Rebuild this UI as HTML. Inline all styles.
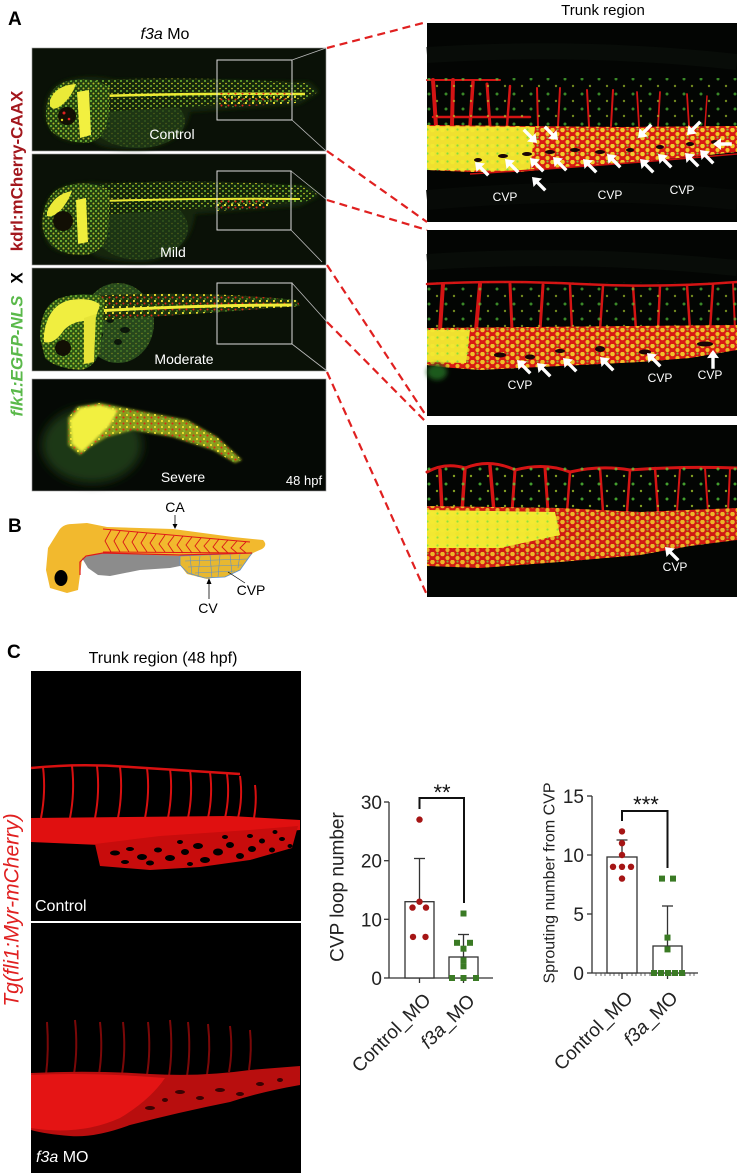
<!DOCTYPE html>
<html><head><meta charset="utf-8"><style>
html,body{margin:0;padding:0;background:#fff;}
svg{display:block;font-family:"Liberation Sans",Arial,sans-serif;}
</style></head><body>
<svg width="737" height="1173" viewBox="0 0 737 1173" xmlns="http://www.w3.org/2000/svg">
<defs>
 <filter id="b1" x="-20%" y="-20%" width="140%" height="140%"><feGaussianBlur stdDeviation="1.2"/></filter>
 <filter id="b2" x="-30%" y="-30%" width="160%" height="160%"><feGaussianBlur stdDeviation="2.5"/></filter>
 <filter id="b4" x="-50%" y="-50%" width="200%" height="200%"><feGaussianBlur stdDeviation="5"/></filter>
 <pattern id="spk" width="6" height="5" patternUnits="userSpaceOnUse">
   <circle cx="1" cy="1" r="0.9" fill="#8ae03c"/>
   <circle cx="4" cy="3.5" r="0.8" fill="#e4d828"/>
 </pattern>
 <pattern id="spkh" width="5" height="5" patternUnits="userSpaceOnUse">
   <circle cx="1" cy="1" r="1.1" fill="#7cc83a"/>
   <circle cx="3.5" cy="3.5" r="1" fill="#d8d830"/>
 </pattern>
 <pattern id="spkr" width="7" height="6" patternUnits="userSpaceOnUse">
   <circle cx="1" cy="1" r="1.1" fill="#f0e030"/>
   <circle cx="4.5" cy="3.5" r="1" fill="#e02818"/>
   <circle cx="2" cy="5" r="0.7" fill="#7ad03a"/>
 </pattern>
 <pattern id="yd" width="10" height="8" patternUnits="userSpaceOnUse">
   <circle cx="2.5" cy="2" r="2.3" fill="#f4ea30"/>
   <circle cx="7.5" cy="6" r="2.1" fill="#f0e428"/>
   <circle cx="7.5" cy="1.5" r="1.1" fill="#6de040"/>
 </pattern>
 <pattern id="gd" width="17" height="15" patternUnits="userSpaceOnUse">
   <circle cx="4" cy="4" r="1.5" fill="#5fe040"/>
   <circle cx="12" cy="11" r="1.2" fill="#b8e030"/>
 </pattern>
 <path id="arr" d="M0,0 L10,1.5 L6.8,4.4 L14.5,12.1 L12.1,14.5 L4.4,6.8 L1.5,10 Z" fill="#fff"/>
</defs>

<rect width="737" height="1173" fill="#fff"/>

<!-- ============ A labels ============ -->
<text x="8" y="25" font-size="19" font-weight="bold" fill="#000">A</text>
<text x="165" y="39" font-size="16" text-anchor="middle" fill="#000"><tspan font-style="italic">f3a</tspan> Mo</text>
<text x="603" y="15" font-size="15" text-anchor="middle" fill="#000">Trunk region</text>
<text transform="translate(17,171) rotate(-90)" text-anchor="middle" dominant-baseline="central" font-size="17" font-weight="bold" fill="#a3171d">kdrl:mCherry-CAAX</text>
<text transform="translate(17,278) rotate(-90)" text-anchor="middle" dominant-baseline="central" font-size="17" font-weight="bold" fill="#000">X</text>
<text transform="translate(17,356) rotate(-90)" text-anchor="middle" dominant-baseline="central" font-size="17" font-weight="bold" font-style="italic" fill="#5ab94a">flk1:EGFP-NLS</text>

<!-- ============ Left panel 1 Control ============ -->
<g>
<rect x="32" y="48" width="294" height="103" fill="#0a1107" stroke="#999" stroke-width="0.6"/>
<path d="M45,110 Q46,86 68,80 Q90,74 115,80 L310,82 L320,92 L300,104 L190,112 Q185,146 140,149 Q100,150 92,140 Q70,146 55,135 Q45,125 45,110Z" fill="#16280d" filter="url(#b2)"/>
<ellipse cx="138" cy="121" rx="47" ry="27" fill="#1e3614"/>
<ellipse cx="138" cy="121" rx="47" ry="27" fill="url(#spk)" opacity="0.25"/>
<path d="M95,80 Q200,76 305,83 L318,92 L305,100 Q200,106 100,112 Z" fill="#15270b"/>
<path d="M95,80 Q200,76 305,83 L318,92 L305,100 Q200,106 100,112 Z" fill="url(#spk)"/>
<path d="M98,96 Q200,93 305,94" stroke="#ecea34" stroke-width="2.5" fill="none"/>
<path d="M220,93 L296,93 L296,103 L220,108Z" fill="url(#spkr)"/>
<path d="M46,112 Q47,90 62,83 Q80,76 100,82 L110,88 L108,120 Q104,140 88,143 Q65,143 52,132 Q45,124 46,112Z" fill="#223f10"/>
<path d="M46,112 Q47,90 62,83 Q80,76 100,82 L110,88 L108,120 Q104,140 88,143 Q65,143 52,132 Q45,124 46,112Z" fill="url(#spkh)" opacity="0.8"/>
<path d="M50,100 Q56,85 76,84 Q72,96 63,104 Q54,112 50,106Z" fill="#eaea38"/>
<path d="M77,92 L89,90 L91,135 L80,138 Z" fill="#f2f040"/>
<circle cx="67" cy="116" r="9" fill="#120f04"/>
<circle cx="64" cy="113" r="1.5" fill="#e02020"/><circle cx="69" cy="119" r="1.3" fill="#e02020"/><circle cx="62" cy="120" r="1.2" fill="#e0d020"/>
<rect x="217" y="60" width="75" height="60" fill="none" stroke="#ddd" stroke-width="1"/>
<line x1="292" y1="60" x2="326" y2="48" stroke="#bbb" stroke-width="0.8"/>
<line x1="292" y1="120" x2="326" y2="151" stroke="#bbb" stroke-width="0.8"/>
<text x="172" y="139" font-size="14" text-anchor="middle" fill="#fff">Control</text>
</g>

<!-- ============ Left panel 2 Mild ============ -->
<g>
<rect x="32" y="154" width="294" height="111" fill="#0a1107" stroke="#999" stroke-width="0.6"/>
<path d="M42,222 Q44,196 60,188 Q80,180 110,184 L310,186 L320,196 L300,206 L195,214 Q190,256 145,262 Q100,262 90,252 Q60,258 48,244 Q42,234 42,222Z" fill="#15270c" filter="url(#b2)"/>
<ellipse cx="140" cy="228" rx="48" ry="32" fill="#1c3414"/>
<ellipse cx="140" cy="228" rx="48" ry="32" fill="url(#spk)" opacity="0.25"/>
<path d="M100,184 Q200,178 305,186 L318,195 L305,202 Q200,208 100,215 Z" fill="#14260b"/>
<path d="M100,184 Q200,178 305,186 L318,195 L305,202 Q200,208 100,215 Z" fill="url(#spk)"/>
<path d="M100,201 Q200,198 300,199" stroke="#e8e632" stroke-width="2" fill="none"/>
<path d="M215,198 L270,197 L268,208 L215,211Z" fill="url(#spkr)"/>
<path d="M42,222 Q44,196 60,188 Q80,180 100,186 L110,192 L108,232 Q104,252 86,255 Q62,256 50,244 Q42,234 42,222Z" fill="#213d10"/>
<path d="M42,222 Q44,196 60,188 Q80,180 100,186 L110,192 L108,232 Q104,252 86,255 Q62,256 50,244 Q42,234 42,222Z" fill="url(#spkh)" opacity="0.8"/>
<path d="M47,212 Q54,194 72,191 Q68,202 60,211 Q52,218 47,216Z" fill="#ecea38"/>
<path d="M76,200 L86,198 L88,242 L78,244Z" fill="#f0ee3c"/>
<circle cx="63" cy="221" r="10" fill="#120f04"/>
<rect x="217" y="171" width="74" height="59" fill="none" stroke="#ddd" stroke-width="1"/>
<line x1="291" y1="171" x2="327" y2="200" stroke="#bbb" stroke-width="0.8"/>
<line x1="291" y1="230" x2="322" y2="262" stroke="#bbb" stroke-width="0.8"/>
<text x="173" y="257" font-size="14" text-anchor="middle" fill="#fff">Mild</text>
</g>

<!-- ============ Left panel 3 Moderate ============ -->
<g>
<rect x="32" y="268" width="294" height="103" fill="#0a1107" stroke="#999" stroke-width="0.6"/>
<ellipse cx="118" cy="323" rx="36" ry="40" fill="#27481c"/>
<ellipse cx="118" cy="323" rx="36" ry="40" fill="url(#spk)" opacity="0.4"/>
<ellipse cx="110" cy="320" rx="4" ry="3" fill="#0c160a"/><ellipse cx="125" cy="330" rx="5" ry="3" fill="#0c160a"/><ellipse cx="132" cy="312" rx="3" ry="3" fill="#0c160a"/><ellipse cx="118" cy="342" rx="4" ry="3" fill="#0c160a"/><ellipse cx="100" cy="335" rx="3" ry="3" fill="#0c160a"/>
<path d="M92,296 Q200,290 297,300 L300,306 Q200,314 100,320Z" fill="#1e330d"/>
<path d="M92,296 Q200,290 297,300 L300,306 Q200,314 100,320Z" fill="url(#spkr)"/>
<path d="M95,311 Q200,305 292,305" stroke="#f0ec38" stroke-width="3" fill="none"/>
<path d="M40,338 Q40,305 60,298 Q80,292 100,296 L105,300 L100,350 Q95,368 80,370 Q55,368 45,358 Z" fill="#2c5414"/>
<path d="M40,338 Q40,305 60,298 Q80,292 100,296 L105,300 L100,350 Q95,368 80,370 Q55,368 45,358 Z" fill="url(#spkh)" opacity="0.8"/>
<path d="M44,334 Q48,305 70,300 Q92,297 100,305 L94,322 Q76,318 64,330 Q54,345 44,342Z" fill="#f0ee40"/>
<path d="M84,318 L96,314 L94,362 L84,364Z" fill="#e6e438"/>
<circle cx="63" cy="348" r="8" fill="#120f04"/>
<rect x="217" y="283" width="75" height="61" fill="none" stroke="#ddd" stroke-width="1"/>
<line x1="292" y1="283" x2="327" y2="322" stroke="#bbb" stroke-width="0.8"/>
<line x1="292" y1="344" x2="327" y2="371" stroke="#bbb" stroke-width="0.8"/>
<text x="184" y="364" font-size="14" text-anchor="middle" fill="#fff">Moderate</text>
</g>

<!-- ============ Left panel 4 Severe ============ -->
<g>
<rect x="32" y="379" width="294" height="112" fill="#050905" stroke="#999" stroke-width="0.6"/>
<ellipse cx="92" cy="445" rx="50" ry="38" fill="#1e3812" filter="url(#b4)"/>
<path d="M68,418 L77,407 L100,403 L150,413 L187,420 L217,437 L242,460 L235,463 L213,450 L173,437 L133,430 L107,437 L90,447 L80,455 L68,445Z" fill="#8a9a1c" filter="url(#b1)"/>
<path d="M68,418 L77,407 L100,403 L150,413 L187,420 L217,437 L242,460 L235,463 L213,450 L173,437 L133,430 L107,437 L90,447 L80,455 L68,445Z" fill="url(#spkr)"/>
<path d="M70,420 L80,408 L100,405 L118,410 L110,425 L95,440 L82,452 L72,444Z" fill="#f2f040" filter="url(#b1)"/>
<text x="183" y="482" font-size="14" text-anchor="middle" fill="#fff">Severe</text>
<text x="304" y="485" font-size="13" text-anchor="middle" fill="#fff">48 hpf</text>
</g>

<!-- ============ Right panel 1 ============ -->
<g>
<rect x="427" y="23" width="310" height="199" fill="#030503"/>
<path d="M427,55 Q580,45 737,62" stroke="#080c08" stroke-width="16" fill="none"/>
<path d="M427,200 Q600,185 737,200" stroke="#070a07" stroke-width="20" fill="none"/>
<g stroke="#d41414" fill="none" stroke-linecap="round">
 <path d="M427,80 L500,80" stroke-width="2"/>
 <path d="M433,117 L530,117" stroke-width="2.5"/>
 <path d="M433,80 L436,126" stroke-width="4"/>
 <path d="M453,80 L452,126" stroke-width="4"/>
 <path d="M473,82 L470,126" stroke-width="3.5"/>
 <path d="M487,84 L490,126" stroke-width="3"/>
 <path d="M510,86 L507,126" stroke-width="2.5"/>
 <path d="M537,88 L538,126" stroke-width="2"/>
 <path d="M560,88 L558,126" stroke-width="2"/>
 <path d="M587,90 L589,126" stroke-width="2"/>
 <path d="M613,90 L611,126" stroke-width="2"/>
 <path d="M637,92 L639,126" stroke-width="1.8"/>
 <path d="M660,92 L658,126" stroke-width="1.8"/>
 <path d="M687,94 L689,126" stroke-width="1.8"/>
 <path d="M707,96 L705,126" stroke-width="1.5"/>
</g>
<rect x="427" y="78" width="310" height="48" fill="url(#gd)" opacity="0.6"/>
<path d="M427,125 L520,126 L620,127 L737,126 L737,152 L690,157 L620,163 L560,168 L520,172 L470,172 L427,170Z" fill="#d81a14"/>
<path d="M427,126 L535,127 L530,171 L427,170Z" fill="#f0e030"/>
<path d="M427,125 L520,126 L620,127 L737,126 L737,152 L690,157 L620,163 L560,168 L520,172 L470,172 L427,170Z" fill="url(#yd)" opacity="0.85"/>
<g fill="#1a0505">
 <ellipse cx="478" cy="160" rx="4" ry="2"/><ellipse cx="503" cy="156" rx="5" ry="2"/><ellipse cx="527" cy="154" rx="5" ry="2"/>
 <ellipse cx="550" cy="152" rx="5" ry="2"/><ellipse cx="575" cy="150" rx="5" ry="2"/><ellipse cx="600" cy="152" rx="5" ry="2"/>
 <ellipse cx="630" cy="150" rx="4" ry="2"/><ellipse cx="660" cy="147" rx="4" ry="2"/><ellipse cx="690" cy="144" rx="4" ry="2"/><ellipse cx="715" cy="142" rx="4" ry="2"/>
</g>
<path d="M470,174 Q600,166 737,154" stroke="#c81010" stroke-width="1.5" fill="none"/>
<use href="#arr" transform="translate(475,162)"/>
<use href="#arr" transform="translate(505,159)"/>
<use href="#arr" transform="translate(530,158)"/>
<use href="#arr" transform="translate(553,157)"/>
<use href="#arr" transform="translate(583,159)"/>
<use href="#arr" transform="translate(607,154)"/>
<use href="#arr" transform="translate(640,159)"/>
<use href="#arr" transform="translate(658,154)"/>
<use href="#arr" transform="translate(685,153)"/>
<use href="#arr" transform="translate(700,150)"/>
<use href="#arr" transform="translate(532,177)"/>
<use href="#arr" transform="translate(537,143) rotate(180)"/>
<use href="#arr" transform="translate(558,140) rotate(180)"/>
<use href="#arr" transform="translate(638,138) rotate(-90)"/>
<use href="#arr" transform="translate(687,135) rotate(-90)"/>
<use href="#arr" transform="translate(713,144) rotate(-45)"/>
<g font-size="12" fill="#fff" text-anchor="middle">
 <text x="505" y="201">CVP</text><text x="610" y="199">CVP</text><text x="682" y="194">CVP</text>
</g>
</g>

<!-- ============ Right panel 2 ============ -->
<g>
<rect x="427" y="230" width="310" height="186" fill="#030503"/>
<path d="M427,262 Q580,252 737,268" stroke="#080c08" stroke-width="16" fill="none"/>
<g stroke="#d41414" fill="none" stroke-linecap="round">
 <path d="M427,284 Q500,280 580,284 Q660,288 737,282" stroke-width="2.5"/>
 <path d="M443,284 L440,330" stroke-width="4"/>
 <path d="M480,284 L476,330" stroke-width="4"/>
 <path d="M510,284 L512,330" stroke-width="3"/>
 <path d="M543,285 L540,330" stroke-width="3"/>
 <path d="M570,285 L572,330" stroke-width="2.5"/>
 <path d="M603,286 L600,330" stroke-width="2.5"/>
 <path d="M633,286 L636,330" stroke-width="2.5"/>
 <path d="M660,286 L658,330" stroke-width="2.5"/>
 <path d="M687,285 L690,330" stroke-width="2.5"/>
 <path d="M713,284 L710,330" stroke-width="2.5"/>
 <path d="M733,283 L735,330" stroke-width="2"/>
</g>
<rect x="427" y="282" width="310" height="48" fill="url(#gd)" opacity="0.6"/>
<path d="M427,328 L737,325 L737,350 L690,358 L640,362 L560,366 L480,370 L440,367 L427,365Z" fill="#d81a14"/>
<path d="M427,330 L470,330 L466,363 L427,362Z" fill="#f0e030"/>
<path d="M427,328 L737,325 L737,350 L690,358 L640,362 L560,366 L480,370 L440,367 L427,365Z" fill="url(#yd)" opacity="0.8"/>
<g fill="#1a0505">
 <ellipse cx="500" cy="355" rx="6" ry="2.5"/><ellipse cx="530" cy="357" rx="5" ry="2.5"/><ellipse cx="560" cy="351" rx="5" ry="2"/>
 <ellipse cx="600" cy="349" rx="5" ry="3"/><ellipse cx="645" cy="352" rx="6" ry="2.5"/><ellipse cx="705" cy="344" rx="8" ry="2.5"/>
</g>
<ellipse cx="437" cy="372" rx="10" ry="8" fill="#1f5a1a" filter="url(#b2)"/>
<use href="#arr" transform="translate(517,360)"/>
<use href="#arr" transform="translate(537,363)"/>
<use href="#arr" transform="translate(563,358)"/>
<use href="#arr" transform="translate(600,357)"/>
<use href="#arr" transform="translate(647,353)"/>
<use href="#arr" transform="translate(713,350) rotate(45)"/>
<g font-size="12" fill="#fff" text-anchor="middle">
 <text x="520" y="389">CVP</text><text x="660" y="382">CVP</text><text x="710" y="379">CVP</text>
</g>
</g>

<!-- ============ Right panel 3 ============ -->
<g>
<rect x="427" y="425" width="310" height="172" fill="#030503"/>
<g stroke="#d41414" fill="none" stroke-linecap="round">
 <path d="M427,472 Q445,462 465,468 Q490,458 515,470 Q545,462 570,472 Q600,465 630,470 Q680,466 737,468" stroke-width="3"/>
 <path d="M440,470 L442,512" stroke-width="3.5"/>
 <path d="M465,468 L462,512" stroke-width="3.5"/>
 <path d="M490,466 L494,512" stroke-width="3.5"/>
 <path d="M515,470 L512,512" stroke-width="3"/>
 <path d="M545,468 L548,512" stroke-width="3"/>
 <path d="M570,472 L567,512" stroke-width="2.5"/>
 <path d="M600,468 L603,512" stroke-width="2.5"/>
 <path d="M630,470 L627,512" stroke-width="2.5"/>
 <path d="M655,468 L658,512" stroke-width="2.5"/>
 <path d="M680,468 L677,512" stroke-width="2"/>
 <path d="M705,468 L708,512" stroke-width="2"/>
 <path d="M730,468 L728,512" stroke-width="2"/>
</g>
<rect x="427" y="466" width="310" height="46" fill="url(#gd)" opacity="0.7"/>
<path d="M427,506 L560,508 L640,512 L737,508 L737,540 L690,546 L640,555 L560,562 L480,568 L427,566Z" fill="#d01a14"/>
<path d="M427,510 L555,512 L560,535 L500,548 L427,548Z" fill="#f2e832"/>
<path d="M427,506 L560,508 L640,512 L737,508 L737,540 L690,546 L640,555 L560,562 L480,568 L427,566Z" fill="url(#yd)" opacity="0.75"/>
<use href="#arr" transform="translate(665,547)"/>
<text x="675" y="571" font-size="12" fill="#fff" text-anchor="middle">CVP</text>
</g>

<!-- ============ dashed connectors ============ -->
<g stroke="#e02020" stroke-width="2.2" stroke-dasharray="8,5" fill="none">
 <line x1="327" y1="48" x2="427" y2="22"/>
 <line x1="327" y1="151" x2="427" y2="222"/>
 <line x1="327" y1="200" x2="427" y2="230"/>
 <line x1="327" y1="265" x2="427" y2="417"/>
 <line x1="327" y1="322" x2="427" y2="423"/>
 <line x1="327" y1="372" x2="427" y2="595"/>
</g>

<!-- ============ B diagram ============ -->
<text x="8" y="532" font-size="19" font-weight="bold" fill="#000">B</text>
<path d="M58,532 Q62,524 72,524 L87,523 L107,527 L173,529 L233,537 L263,540 Q268,545 262,549 L253,553 L238,570 L230,574 L207,579 L187,574 L180,565 L180,556 L100,555 L82,560 L80,575 L78,590 L67,593 L50,588 L46,570 L48,548 Z" fill="#f2b92e"/>
<path d="M82,558 L100,553 L180,556 L185,565 L170,568 L140,570 L110,576 L98,575 L88,568 Z" fill="#8c8c8c"/>
<path d="M180,556 L252,553 L240,570 L225,577 L205,578 L188,573 L180,565Z" fill="#e8b830" stroke="#5b8fd0" stroke-width="0.8"/>
<g stroke="#5b8fd0" stroke-width="0.6" fill="none">
 <path d="M185,561 L248,559 M188,567 L242,565 M195,573 L235,571"/>
 <path d="M190,556 L192,575 M200,556 L198,577 M210,555 L212,578 M220,555 L218,577 M230,554 L232,574 M240,554 L238,568"/>
</g>
<path d="M80,575 L80,562 L86,556 L103,553 L180,555 L252,553" stroke="#e01818" stroke-width="1.2" fill="none"/>
<path d="M103,529 L250,542 M103,552 L250,553" stroke="#e01818" stroke-width="1" fill="none"/>
<g stroke="#d81818" stroke-width="0.9" fill="none">
 <path d="M111,530 L105,541 L111,552"/><path d="M120,531 L114,541 L120,552"/><path d="M129,532 L123,542 L129,552"/>
 <path d="M138,532 L132,542 L138,552"/><path d="M147,533 L141,543 L147,552"/><path d="M156,534 L150,543 L156,552"/>
 <path d="M165,535 L159,544 L165,552"/><path d="M174,536 L168,544 L174,553"/><path d="M183,536 L177,545 L183,553"/>
 <path d="M192,537 L186,545 L192,553"/><path d="M201,538 L195,546 L201,553"/><path d="M210,539 L204,546 L210,553"/>
 <path d="M219,539 L213,547 L219,553"/><path d="M228,540 L222,547 L228,553"/><path d="M237,541 L231,548 L237,553"/>
 <path d="M246,542 L240,548 L246,553"/>
</g>
<ellipse cx="61" cy="578" rx="6.5" ry="8" fill="#000"/>
<text x="175" y="512" font-size="14" text-anchor="middle" fill="#000">CA</text>
<line x1="175" y1="515" x2="175" y2="526" stroke="#000" stroke-width="0.8"/>
<path d="M172.5,524 L175,529 L177.5,524Z" fill="#000"/>
<text x="208" y="613" font-size="14" text-anchor="middle" fill="#000">CV</text>
<line x1="209" y1="599" x2="209" y2="582" stroke="#000" stroke-width="0.8"/>
<path d="M206.5,584 L209,578 L211.5,584Z" fill="#000"/>
<text x="251" y="595" font-size="14" text-anchor="middle" fill="#000">CVP</text>
<line x1="245" y1="583" x2="228" y2="572" stroke="#000" stroke-width="0.7"/>

<!-- ============ C ============ -->
<text x="7" y="658" font-size="19" font-weight="bold" fill="#000">C</text>
<text x="163" y="663" font-size="16" text-anchor="middle" fill="#000">Trunk region (48 hpf)</text>
<text transform="translate(12,910) rotate(-90)" text-anchor="middle" dominant-baseline="central" font-size="21" font-style="italic" fill="#e02020">Tg(fli1:Myr-mCherry)</text>

<!-- Control image -->
<rect x="31" y="671" width="270" height="250" fill="#000"/>
<g stroke="#d81010" fill="none" stroke-width="2">
 <path d="M31,768 Q80,763 130,767 Q180,770 240,774" stroke-width="2.5"/>
 <path d="M43,767 Q46,792 41,818"/><path d="M72,766 Q75,792 70,818"/><path d="M97,766 Q100,792 95,818"/>
 <path d="M120,767 Q123,792 118,818"/><path d="M147,768 Q150,792 145,818"/><path d="M170,769 Q173,792 168,818"/>
 <path d="M190,770 Q193,794 188,818"/><path d="M210,772 Q213,795 208,818"/><path d="M227,774 Q230,796 225,818"/>
 <path d="M240,776 Q243,798 238,818"/><path d="M255,785 Q257,800 254,818"/>
</g>
<path d="M31,818 L230,816 L300,820 L300,830 L240,836 L160,838 L100,845 L31,842 Z" fill="#e01010"/>
<path d="M95,844 L160,836 L250,830 L298,826 L292,848 L250,860 L200,867 L150,870 L100,866 Z" fill="#c80c0c"/>
<g fill="#000">
 <ellipse cx="115" cy="853" rx="5" ry="2.5"/><ellipse cx="130" cy="849" rx="4" ry="2"/><ellipse cx="142" cy="857" rx="5" ry="3"/>
 <ellipse cx="158" cy="850" rx="4" ry="2.5"/><ellipse cx="170" cy="858" rx="5" ry="3"/><ellipse cx="185" cy="852" rx="4" ry="3"/>
 <ellipse cx="198" cy="846" rx="5" ry="3"/><ellipse cx="205" cy="860" rx="5" ry="3"/><ellipse cx="218" cy="852" rx="5" ry="3.5"/>
 <ellipse cx="230" cy="845" rx="4" ry="3"/><ellipse cx="240" cy="856" rx="4" ry="3"/><ellipse cx="252" cy="849" rx="4" ry="3"/>
 <ellipse cx="262" cy="841" rx="3" ry="2.5"/><ellipse cx="272" cy="850" rx="3" ry="2.5"/><ellipse cx="282" cy="839" rx="3" ry="2"/>
 <ellipse cx="290" cy="846" rx="2.5" ry="2"/><ellipse cx="225" cy="837" rx="3" ry="2"/><ellipse cx="250" cy="836" rx="3" ry="2"/>
 <ellipse cx="275" cy="832" rx="2.5" ry="2"/><ellipse cx="180" cy="842" rx="3" ry="2"/><ellipse cx="150" cy="863" rx="4" ry="2.5"/>
 <ellipse cx="190" cy="864" rx="3" ry="2"/><ellipse cx="125" cy="862" rx="4" ry="2"/>
</g>
<text x="35" y="911" font-size="16" fill="#fff">Control</text>

<line x1="31" y1="922" x2="301" y2="922" stroke="#fff" stroke-width="2"/>

<!-- f3a MO image -->
<rect x="31" y="923" width="270" height="250" fill="#000"/>
<g stroke="#7a0808" fill="none" stroke-width="2">
 <path d="M47,1022 Q49,1050 46,1075"/><path d="M75,1020 Q78,1048 74,1074"/><path d="M100,1022 Q103,1050 99,1074"/>
 <path d="M123,1022 Q126,1050 122,1074"/><path d="M148,1022 Q151,1050 147,1075"/><path d="M170,1020 Q173,1050 169,1076"/>
 <path d="M188,1022 Q191,1050 187,1076"/><path d="M208,1024 Q211,1050 207,1075"/><path d="M230,1026 Q233,1050 229,1072"/>
 <path d="M250,1030 Q252,1050 249,1070"/>
</g>
<path d="M31,1073 Q90,1070 150,1074 Q200,1077 250,1070 L300,1066 L300,1085 Q260,1092 230,1102 Q180,1112 130,1125 Q95,1138 70,1136 Q45,1134 31,1130Z" fill="#b80e0e"/>
<path d="M31,1075 Q90,1072 165,1078 Q150,1100 120,1118 Q80,1136 31,1128Z" fill="#e41414"/>
<g fill="#3a0202">
 <ellipse cx="180" cy="1092" rx="5" ry="2"/><ellipse cx="200" cy="1098" rx="4" ry="2"/><ellipse cx="220" cy="1090" rx="5" ry="2"/>
 <ellipse cx="240" cy="1094" rx="4" ry="2"/><ellipse cx="260" cy="1084" rx="4" ry="2"/><ellipse cx="280" cy="1080" rx="3" ry="2"/>
 <ellipse cx="150" cy="1108" rx="5" ry="2"/><ellipse cx="165" cy="1100" rx="3" ry="2"/>
</g>
<text x="36" y="1162" font-size="16" fill="#fff"><tspan font-style="italic">f3a</tspan> MO</text>

<!-- ============ Graph 1 ============ -->
<g stroke="#333" stroke-width="1.3" fill="none">
 <line x1="389" y1="802" x2="389" y2="978"/>
 <line x1="389" y1="978" x2="493" y2="978"/>
 <line x1="384" y1="802" x2="389" y2="802"/><line x1="384" y1="860.7" x2="389" y2="860.7"/>
 <line x1="384" y1="919.3" x2="389" y2="919.3"/><line x1="384" y1="978" x2="389" y2="978"/>
 <line x1="419.5" y1="978" x2="419.5" y2="983"/><line x1="463.5" y1="978" x2="463.5" y2="983"/>
 <rect x="405" y="901.7" width="29" height="76.3" fill="#fff"/>
 <rect x="449" y="957" width="29" height="21" fill="#fff"/>
 <line x1="419.5" y1="901.7" x2="419.5" y2="858.5"/><line x1="414" y1="858.5" x2="425" y2="858.5"/>
 <line x1="463.5" y1="957" x2="463.5" y2="934.5"/><line x1="458" y1="934.5" x2="469" y2="934.5"/>
</g>
<path d="M419.5,809 L419.5,798 L464,798 L464,903" stroke="#111" stroke-width="2" fill="none"/>
<text x="442" y="800" font-size="22" text-anchor="middle" fill="#111">**</text>
<g font-size="19" text-anchor="end" fill="#222">
 <text x="382" y="809">30</text><text x="382" y="867.7">20</text><text x="382" y="926.3">10</text><text x="382" y="985">0</text>
</g>
<text transform="translate(338,887) rotate(-90)" text-anchor="middle" dominant-baseline="central" font-size="19" fill="#222">CVP loop number</text>
<g fill="#a51515">
 <circle cx="419.5" cy="819.6" r="3.2"/><circle cx="419.5" cy="901.7" r="3.2"/>
 <circle cx="412.5" cy="907.6" r="3.2"/><circle cx="426" cy="907.6" r="3.2"/>
 <circle cx="413" cy="936.9" r="3.2"/><circle cx="425.5" cy="936.9" r="3.2"/>
</g>
<g fill="#3a7a24">
 <rect x="460.5" y="910.5" width="6" height="6"/><rect x="454" y="939.8" width="6" height="6"/><rect x="467" y="939.8" width="6" height="6"/>
 <rect x="460.5" y="945.7" width="6" height="6"/><rect x="460.5" y="957.4" width="6" height="6"/><rect x="460.5" y="963.3" width="6" height="6"/>
 <rect x="449" y="975" width="6" height="6"/><rect x="460.5" y="975" width="6" height="6"/><rect x="473" y="975" width="6" height="6"/>
</g>
<text transform="translate(432,1001) rotate(-45)" text-anchor="end" font-size="19" fill="#222">Control_MO</text>
<text transform="translate(476,1002) rotate(-45)" text-anchor="end" font-size="19" fill="#222"><tspan font-style="italic">f3a</tspan>_MO</text>

<!-- ============ Graph 2 ============ -->
<g stroke="#333" stroke-width="1.3" fill="none">
 <line x1="592" y1="796" x2="592" y2="973"/>
 <line x1="592" y1="973" x2="698" y2="973"/>
 <line x1="587" y1="796" x2="592" y2="796"/><line x1="587" y1="855" x2="592" y2="855"/>
 <line x1="587" y1="914" x2="592" y2="914"/><line x1="587" y1="973" x2="592" y2="973"/>
 <line x1="622" y1="973" x2="622" y2="979"/><line x1="667.5" y1="973" x2="667.5" y2="979"/>
 <rect x="607" y="857" width="30" height="116" fill="#fff"/>
 <rect x="653" y="946" width="29" height="27" fill="#fff"/>
 <line x1="622" y1="857" x2="622" y2="840"/><line x1="616.5" y1="840" x2="627.5" y2="840"/>
 <line x1="667.5" y1="946" x2="667.5" y2="906"/><line x1="662" y1="906" x2="673" y2="906"/>
</g>
<g stroke="#444" stroke-width="0.8">
 <path d="M596,973v3M601,973v3M605,973v3M610,973v3M614,973v3M619,973v3M627,973v3M632,973v3M636,973v3M641,973v3M645,973v3M650,973v3M654,973v3M659,973v3M663,973v3M672,973v3M676,973v3M681,973v3M685,973v3M690,973v3M694,973v3"/>
</g>
<path d="M622,821 L622,811 L667.5,811 L667.5,868" stroke="#111" stroke-width="2" fill="none"/>
<text x="646" y="812" font-size="22" text-anchor="middle" fill="#111">***</text>
<g font-size="19" text-anchor="end" fill="#222">
 <text x="584" y="803">15</text><text x="584" y="862">10</text><text x="584" y="921">5</text><text x="584" y="980">0</text>
</g>
<text transform="translate(550,883) rotate(-90)" text-anchor="middle" dominant-baseline="central" font-size="16" fill="#222">Sprouting number from CVP</text>
<g fill="#a51515">
 <circle cx="622" cy="831.4" r="3.2"/><circle cx="622" cy="843.2" r="3.2"/><circle cx="622" cy="855" r="3.2"/>
 <circle cx="613" cy="866.8" r="3.2"/><circle cx="622" cy="866.8" r="3.2"/><circle cx="631" cy="866.8" r="3.2"/>
 <circle cx="622" cy="878.6" r="3.2"/>
</g>
<g fill="#3a7a24">
 <rect x="659" y="875.6" width="6" height="6"/><rect x="670" y="875.6" width="6" height="6"/>
 <rect x="664.5" y="934.6" width="6" height="6"/><rect x="664.5" y="946.4" width="6" height="6"/>
 <rect x="651" y="970" width="6" height="6"/><rect x="658" y="970" width="6" height="6"/><rect x="665" y="970" width="6" height="6"/>
 <rect x="672" y="970" width="6" height="6"/><rect x="679" y="970" width="6" height="6"/>
</g>
<text transform="translate(634,999) rotate(-45)" text-anchor="end" font-size="19" fill="#222">Control_MO</text>
<text transform="translate(679,999) rotate(-45)" text-anchor="end" font-size="19" fill="#222"><tspan font-style="italic">f3a</tspan>_MO</text>

</svg>
</body></html>
